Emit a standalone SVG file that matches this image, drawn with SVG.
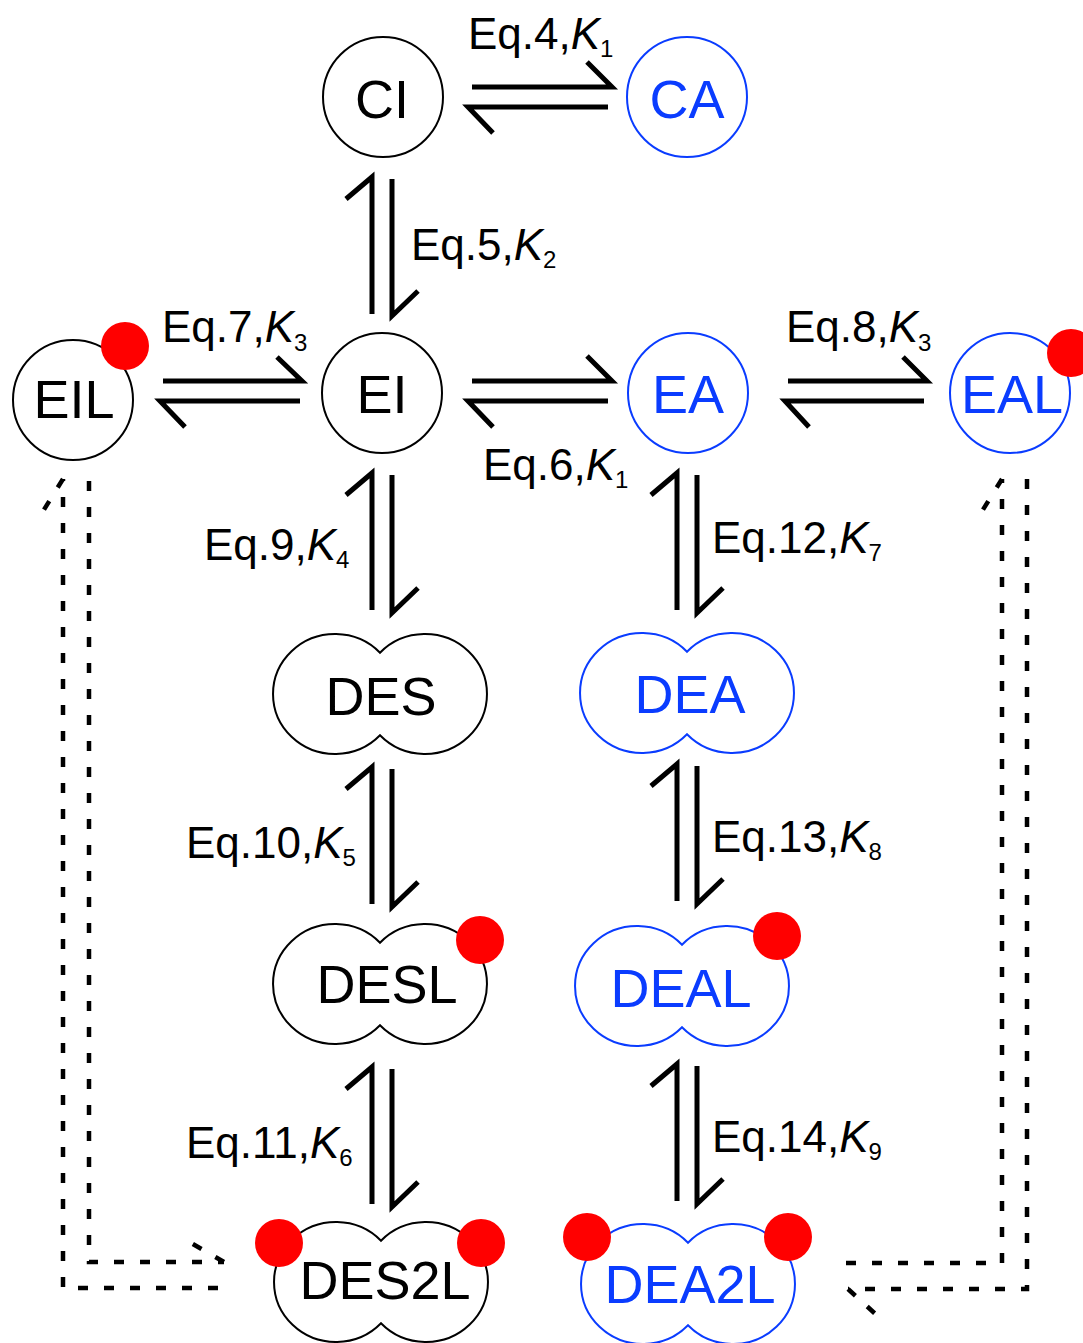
<svg xmlns="http://www.w3.org/2000/svg" width="1083" height="1343" viewBox="0 0 1083 1343">
<style>
.nb{fill:#fff;stroke:#000;stroke-width:2}
.nu{fill:#fff;stroke:#0a3cff;stroke-width:2}
.tb{font-family:"Liberation Sans",Arial,sans-serif;font-size:54px;fill:#000;text-anchor:middle}
.tu{font-family:"Liberation Sans",Arial,sans-serif;font-size:54px;fill:#0a3cff;text-anchor:middle}
.lig{fill:#ff0000}
.h{fill:none;stroke:#000;stroke-width:5}
.d{fill:none;stroke:#000;stroke-width:4.5;stroke-dasharray:10 16}
.lbl{font-family:"Liberation Sans",Arial,sans-serif;font-size:44px;fill:#000}
.k{font-style:italic}
.s{font-size:24px}
</style>
<g id="connectors">
  <path class="h" d="M472 87H612L587 62M608 107H468L493 133"/>
  <path class="h" d="M163 381H302L277 357M300 401H160L185 427"/>
  <path class="h" d="M472 381H612L587 356M608 401H468L493 427"/>
  <path class="h" d="M788 381H927L903 357M924 401H785L809 427"/>
  <path class="h" d="M372 314V177L346 199M392 179V316L418 291"/>
  <path class="h" d="M372 610V473L346 495M392 475V613L418 588"/>
  <path class="h" d="M372 904V767L346 789M392 769V907L418 882"/>
  <path class="h" d="M372 1204V1067L346 1089M392 1069V1207L418 1182"/>
  <path class="h" d="M677 610V473L651 495M697 475V613L723 588"/>
  <path class="h" d="M677 901V764L651 786M697 766V904L723 879"/>
  <path class="h" d="M677 1201V1064L651 1086M697 1066V1204L723 1179"/>
  <path class="d" d="M89 481V1262H224"/>
  <path class="d" d="M224 1262L186 1240"/>
  <path class="d" d="M218 1288H63V479"/>
  <path class="d" d="M63 479L40 516"/>
  <path class="d" d="M846 1263H1002V479"/>
  <path class="d" d="M1002 479L979 516"/>
  <path class="d" d="M1027 479V1289H848"/>
  <path class="d" d="M848 1289L882 1320"/>
</g>
<g id="labels">
  <text class="lbl" x="468" y="49">Eq.4,<tspan class="k">K</tspan><tspan class="s" dy="8">1</tspan></text>
  <text class="lbl" x="411" y="260">Eq.5,<tspan class="k">K</tspan><tspan class="s" dy="8">2</tspan></text>
  <text class="lbl" x="162" y="342">Eq.7,<tspan class="k">K</tspan><tspan class="s" dy="9">3</tspan></text>
  <text class="lbl" x="786" y="342">Eq.8,<tspan class="k">K</tspan><tspan class="s" dy="9">3</tspan></text>
  <text class="lbl" x="483" y="480">Eq.6,<tspan class="k">K</tspan><tspan class="s" dy="8">1</tspan></text>
  <text class="lbl" x="204" y="560">Eq.9,<tspan class="k">K</tspan><tspan class="s" dy="8">4</tspan></text>
  <text class="lbl" x="712" y="553">Eq.12,<tspan class="k">K</tspan><tspan class="s" dy="8">7</tspan></text>
  <text class="lbl" x="186" y="858">Eq.10,<tspan class="k">K</tspan><tspan class="s" dy="8">5</tspan></text>
  <text class="lbl" x="712" y="852">Eq.13,<tspan class="k">K</tspan><tspan class="s" dy="8">8</tspan></text>
  <text class="lbl" x="186" y="1158">Eq.11,<tspan class="k">K</tspan><tspan class="s" dy="8">6</tspan></text>
  <text class="lbl" x="712" y="1152">Eq.14,<tspan class="k">K</tspan><tspan class="s" dy="8">9</tspan></text>
</g>
<g id="CI"><circle class="nb" cx="383" cy="97" r="60"/><text class="tb" x="382" y="118">CI</text></g>
<g id="CA"><circle class="nu" cx="687" cy="97" r="60"/><text class="tu" x="687" y="118">CA</text></g>
<g id="EIL"><circle class="nb" cx="73" cy="400" r="60"/><text class="tb" x="74" y="418">EIL</text><circle class="lig" cx="125" cy="346" r="24"/></g>
<g id="EI"><circle class="nb" cx="382" cy="393" r="60"/><text class="tb" x="382" y="413">EI</text></g>
<g id="EA"><circle class="nu" cx="688" cy="393" r="60"/><text class="tu" x="688" y="413">EA</text></g>
<g id="EAL"><circle class="nu" cx="1010" cy="393" r="60"/><text class="tu" x="1012" y="413">EAL</text><circle class="lig" cx="1071" cy="353" r="24"/></g>
<g id="DES"><path class="nb" d="M380 652.7A62 60 0 1 0 380 735.3A62 60 0 1 0 380 652.7Z"/><text class="tb" x="381" y="715">DES</text></g>
<g id="DEA"><path class="nu" d="M687 651.7A62 60 0 1 0 687 734.3A62 60 0 1 0 687 651.7Z"/><text class="tu" x="690" y="713">DEA</text></g>
<g id="DESL"><path class="nb" d="M380 942.7A62 60 0 1 0 380 1025.3A62 60 0 1 0 380 942.7Z"/><text class="tb" x="387" y="1003">DESL</text><circle class="lig" cx="480" cy="940" r="24"/></g>
<g id="DEAL"><path class="nu" d="M682 944.7A62 60 0 1 0 682 1027.3A62 60 0 1 0 682 944.7Z"/><text class="tu" x="681" y="1007">DEAL</text><circle class="lig" cx="777" cy="936" r="24"/></g>
<g id="DES2L"><path class="nb" d="M381 1240.7A62 60 0 1 0 381 1323.3A62 60 0 1 0 381 1240.7Z"/><text class="tb" x="385" y="1299">DES2L</text><circle class="lig" cx="279" cy="1243" r="24"/><circle class="lig" cx="481" cy="1243" r="24"/></g>
<g id="DEA2L"><path class="nu" d="M688 1242.7A62 60 0 1 0 688 1325.3A62 60 0 1 0 688 1242.7Z"/><text class="tu" x="690" y="1303">DEA2L</text><circle class="lig" cx="587" cy="1237" r="24"/><circle class="lig" cx="788" cy="1237" r="24"/></g>
</svg>
